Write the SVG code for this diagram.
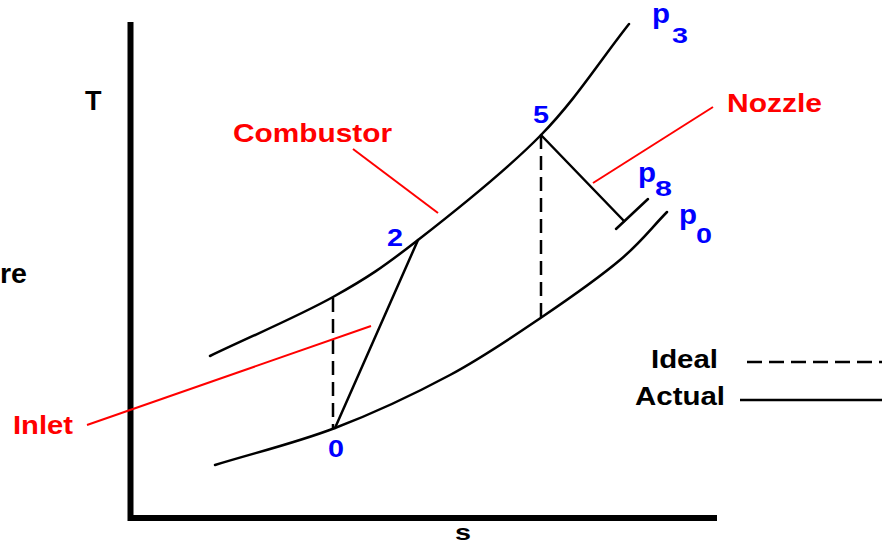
<svg xmlns="http://www.w3.org/2000/svg" width="882" height="545" viewBox="0 0 882 545">
<style>
.t{font-family:"Liberation Sans",Arial,sans-serif;font-weight:bold}
.blk{fill:#000}
.red{fill:#ff0000}
.blu{fill:#0000ff}
.curve{fill:none;stroke:#000;stroke-width:2.5;stroke-linecap:round}
.dash{fill:none;stroke:#000;stroke-width:2.5;stroke-dasharray:14 7}
.lead{fill:none;stroke:#ff0000;stroke-width:2}
.axis{fill:none;stroke:#000;stroke-width:6}
</style>
<rect width="882" height="545" fill="#fff"/>
<g id="axes">
<path class="axis" d="M130.5,22 V518 H717"/>
<text class="t blk" x="85" y="110" font-size="27">T</text>
<text class="t blk" x="0" y="283" font-size="27" textLength="27" lengthAdjust="spacingAndGlyphs">re</text>
<text class="t blk" x="455" y="540" font-size="22" textLength="16" lengthAdjust="spacingAndGlyphs">s</text>
</g>
<g id="curve-p3">
<path class="curve" d="M210,356 C251,336.3 298.3,316.3 333,297 C367.7,277.7 383.3,267 418,240 C452.7,213 505.8,171 541,135 C576.2,99 599.7,61 629,24"/>
<text class="t blu" x="652" y="23" font-size="27" textLength="18" lengthAdjust="spacingAndGlyphs">p</text>
<text class="t blu" x="672" y="43" font-size="22" textLength="16" lengthAdjust="spacingAndGlyphs">3</text>
</g>
<g id="curve-p0">
<path class="curve" d="M215,465 C255,452.7 295.8,443 335,428 C374.2,413 415.5,393.5 450,375 C484.5,356.5 513.7,336.2 542,317 C570.3,297.8 599.2,277.5 620,260 C640.8,242.5 651.3,228 667,212"/>
<text class="t blu" x="679" y="224" font-size="27" textLength="18" lengthAdjust="spacingAndGlyphs">p</text>
<text class="t blu" x="696" y="243" font-size="22" textLength="16" lengthAdjust="spacingAndGlyphs">0</text>
</g>
<g id="curve-p8">
<path class="curve" d="M616,229 L648,199"/>
<text class="t blu" x="638" y="182" font-size="27" textLength="18" lengthAdjust="spacingAndGlyphs">p</text>
<text class="t blu" x="655" y="196" font-size="22" textLength="17" lengthAdjust="spacingAndGlyphs">8</text>
</g>
<g id="point-0"><text class="t blu" x="328" y="457" font-size="24" textLength="16" lengthAdjust="spacingAndGlyphs">0</text></g>
<g id="point-2"><text class="t blu" x="387" y="246" font-size="24" textLength="16" lengthAdjust="spacingAndGlyphs">2</text></g>
<g id="point-5"><text class="t blu" x="533" y="123" font-size="24" textLength="16" lengthAdjust="spacingAndGlyphs">5</text></g>
<g id="connectors">
<path class="dash" d="M333,298 V428"/>
<path class="dash" d="M541,135 V317"/>
<path class="curve" d="M335,428 L418,240"/>
<path class="curve" d="M541,135 L624,221"/>
<path class="lead" d="M87,425 L371,326"/>
<path class="lead" d="M353,149 L438,213"/>
<path class="lead" d="M593,183 L713,107"/>
</g>
<g id="label-inlet"><text class="t red" x="13" y="434" font-size="26" textLength="60" lengthAdjust="spacingAndGlyphs">Inlet</text></g>
<g id="label-combustor"><text class="t red" x="233" y="142" font-size="26" textLength="159" lengthAdjust="spacingAndGlyphs">Combustor</text></g>
<g id="label-nozzle"><text class="t red" x="727" y="112" font-size="26" textLength="95" lengthAdjust="spacingAndGlyphs">Nozzle</text></g>
<g id="legend">
<text class="t blk" x="651" y="368" font-size="25" textLength="67" lengthAdjust="spacingAndGlyphs">Ideal</text>
<path class="dash" d="M747,362 H882" style="stroke-dasharray:15 7"/>
<text class="t blk" x="635" y="405" font-size="25" textLength="90" lengthAdjust="spacingAndGlyphs">Actual</text>
<path class="curve" d="M740,400 H882" style="stroke-linecap:butt"/>
</g>
</svg>
